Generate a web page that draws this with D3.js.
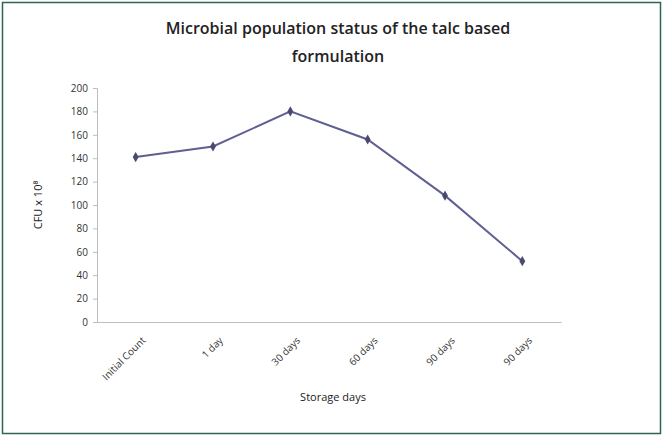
<!DOCTYPE html>
<html lang="en">
<head>
<meta charset="UTF-8">
<title>Microbial population status</title>
<style>
    body { margin: 0; background: #fff; font-family: 'Open Sans', sans-serif; }
    svg { display: block; }
</style>
</head>
<body>
<div id="chart"></div>
<script src="https://d3js.org/d3.v7.min.js"></script>
<script>
    // storage period and population (CFU x 10^8)
    const categories = ["Initial Count", "1 day", "30 days", "60 days", "90 days", "90 days"];
    const cfu = [141, 150, 180, 156, 108, 52];
    const yTicks = [0, 20, 40, 60, 80, 100, 120, 140, 160, 180, 200];

    const width = 663, height = 436;
    const margin = {top: 88, right: 102, bottom: 114, left: 97};

    const svg = d3.select("#chart").append("svg")
        .attr("width", width)
        .attr("height", height);

    // outer frame
    svg.append("rect")
        .attr("x", 2.5).attr("y", 2.5)
        .attr("width", width - 5).attr("height", height - 5)
        .attr("fill", "#fff")
        .attr("stroke", "#2f6650")
        .attr("stroke-width", 1.5);

    const x = d3.scaleBand()
        .domain(d3.range(categories.length))
        .range([margin.left, width - margin.right]);

    const y = d3.scaleLinear()
        .domain([0, 200])
        .range([height - margin.bottom, margin.top]);

    // y axis
    const yAxis = svg.append("g")
        .attr("transform", `translate(${margin.left},0)`)
        .call(d3.axisLeft(y).tickValues(yTicks).tickSize(4).tickPadding(5));
    yAxis.select(".domain").attr("stroke", "#bdbdbd");
    yAxis.selectAll(".tick line").attr("stroke", "#bdbdbd");
    yAxis.selectAll("text").attr("font-size", 10).attr("fill", "#333").attr("font-family", "'Open Sans', sans-serif");

    // x axis
    const xAxis = svg.append("g")
        .attr("transform", `translate(0,${height - margin.bottom})`)
        .call(d3.axisBottom(x).tickFormat(i => categories[i]).tickSize(0).tickPadding(8));
    xAxis.select(".domain").attr("stroke", "#bdbdbd");
    xAxis.selectAll("text")
        .attr("font-size", 10)
        .attr("fill", "#333")
        .attr("font-family", "'Open Sans', sans-serif")
        .attr("text-anchor", "end")
        .attr("dx", "-0.6em")
        .attr("dy", "1.3em")
        .attr("transform", "rotate(-45)");

    const line = d3.line()
        .x((d, i) => x(i) + x.bandwidth() / 2)
        .y(d => y(d));

    svg.append("path")
        .datum(cfu)
        .attr("d", line)
        .attr("fill", "none")
        .attr("stroke", "#5f5f93")
        .attr("stroke-width", 2);

    svg.selectAll(".pt")
        .data(cfu)
        .enter().append("path")
        .attr("class", "pt")
        .attr("d", d3.symbol().type(d3.symbolDiamond).size(30))
        .attr("transform", (d, i) => `translate(${x(i) + x.bandwidth() / 2},${y(d)})`)
        .attr("fill", "#4a4a6e");

    // title
    const title = svg.append("text")
        .attr("text-anchor", "middle")
        .attr("font-size", 16)
        .attr("font-weight", "600")
        .attr("fill", "#222");
    title.append("tspan").attr("x", 338).attr("y", 34).text("Microbial population status of the talc based");
    title.append("tspan").attr("x", 338).attr("y", 62).text("formulation");

    // axis titles
    svg.append("text")
        .attr("x", 333).attr("y", 401)
        .attr("text-anchor", "middle")
        .attr("font-size", 11)
        .attr("fill", "#222")
        .text("Storage days");

    svg.append("text")
        .attr("transform", "translate(42,205) rotate(-90)")
        .attr("text-anchor", "middle")
        .attr("font-size", 11)
        .attr("fill", "#222")
        .text("CFU x 10⁸");
</script>
</body>
</html>
